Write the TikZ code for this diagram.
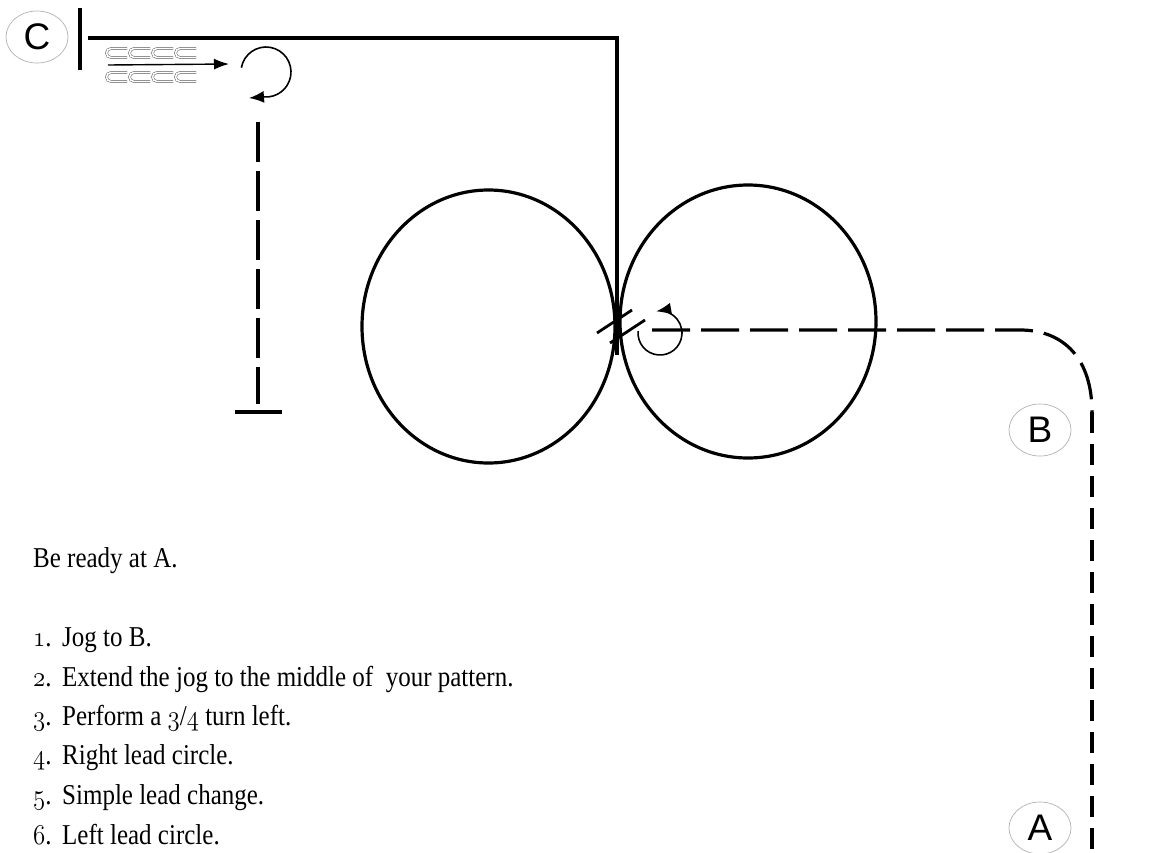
\documentclass[tikz,border=0pt]{standalone}
\usepackage{fontspec}
\setmainfont{Liberation Serif}
\newfontfamily\labelfont{Liberation Sans}
\usetikzlibrary{arrows.meta,shapes.geometric}
\tikzset{
  solidline/.style={line width=3.2pt},
  dashlong/.style={line width=3.2pt, dash pattern=on 38pt off 11pt},
  dashshort/.style={line width=3.2pt, dash pattern=on 21pt off 11pt},
  lbl/.style={draw=gray!60, line width=0.7pt, ellipse, minimum width=62pt, minimum height=52pt, inner sep=0pt, font=\labelfont\fontsize{37}{37}\selectfont},
  txt/.style={anchor=base west, inner sep=0pt, font=\fontsize{25}{25}\selectfont},
  rider/.style={line width=0.5pt, draw=gray!70!black, double=white, double distance=1.6pt},
  turn/.style={line width=1.6pt, -{Latex[length=15pt,width=12pt]}},
}
\newcommand{\riderglyph}[2]{\draw[rider] (#1+20,#2-4.5) -- (#1+4,#2-4.5) arc[start angle=90, end angle=270, radius=4.5pt] -- (#1+20,#2+4.5);}
\newcommand{\tl}[1]{\scalebox{1}[1.15]{#1}}
\newcommand{\osn}[1]{{\usefont{OML}{cmm}{m}{it}#1}}
\begin{document}
\begin{tikzpicture}[x=1pt,y=-1pt]
\useasboundingbox (0,0) rectangle (1176,852);
% labels
\node[lbl] (C) at (37,37) {C};
\node[lbl] (B) at (1040,430) {B};
\node[lbl] (A) at (1040,828) {A};
% start bar and top line
\coordinate (barT) at (80,8);
\coordinate (barB) at (80,70);
\draw[solidline] (barT) -- (barB);
\coordinate (topL) at (88,38);
\coordinate (topR) at (617,38);
\coordinate (midB) at (617,355);
\draw[solidline] (topL) -- (topR) -- (midB);
% riders
\foreach \xx in {107,130,153,176} {\riderglyph{\xx}{53}\riderglyph{\xx}{77}}
\coordinate (arS) at (108,65);
\coordinate (arE) at (229,64);
\draw[line width=1.4pt,-{Latex[length=15pt,width=11pt]}] (arS) -- (arE);
% top turn
\coordinate (ttEnd) at (249,98);
\draw[turn] (266,72) ++(170:25pt) arc[start angle=170, end angle=-95, radius=25pt] -- (ttEnd);
% left dashed line and stop bar
\coordinate (lvT) at (258,122);
\coordinate (lvB) at (258,404);
\draw[line width=3.2pt, dash pattern=on 40pt off 9pt] (lvT) -- (lvB);
\coordinate (stL) at (235,412);
\coordinate (stR) at (282,412);
\draw[solidline] (stL) -- (stR);
% circles
\draw[solidline] (488.5,326.5) ellipse [x radius=126.5pt, y radius=136.5pt];
\draw[solidline] (748,321.5) ellipse [x radius=128pt, y radius=136.5pt];
% lead change slashes
\draw[line width=2.8pt] (597,333) -- (632,310);
\draw[line width=2.8pt] (610,343) -- (645,320);
% small turn
\draw[turn] (660,333) ++(175:22pt) arc[start angle=175, end angle=460, radius=22pt];
% jog path
\coordinate (jS) at (652,330);
\coordinate (jC) at (1020,330);
\coordinate (jV) at (1092,412);
\coordinate (jE) at (1092,852);
\draw[dashlong] (jS) -- (jC) .. controls (1065,330) and (1092,360) .. (jV);
\draw[dashshort] (jV) -- (jE);
% text
\node[txt] (t0) at (33,567) {\tl{Be ready at A.}};
\node[txt] (n1) at (33,646) {\tl{\osn{1}.}};
\node[txt] (l1) at (62,646) {\tl{Jog to B.}};
\node[txt] (n2) at (33,686) {\tl{\osn{2}.}};
\node[txt] (l2) at (62,686) {\tl{Extend the jog to the middle of\ \ your pattern.}};
\node[txt] (n3) at (33,725) {\tl{\osn{3}.}};
\node[txt] (l3) at (62,725) {\tl{Perform a \osn{3}/\osn{4} turn left.}};
\node[txt] (n4) at (33,764) {\tl{\osn{4}.}};
\node[txt] (l4) at (62,764) {\tl{Right lead circle.}};
\node[txt] (n5) at (33,804) {\tl{\osn{5}.}};
\node[txt] (l5) at (62,804) {\tl{Simple lead change.}};
\node[txt] (n6) at (33,844) {\tl{\osn{6}.}};
\node[txt] (l6) at (62,844) {\tl{Left lead circle.}};
\end{tikzpicture}
\end{document}
